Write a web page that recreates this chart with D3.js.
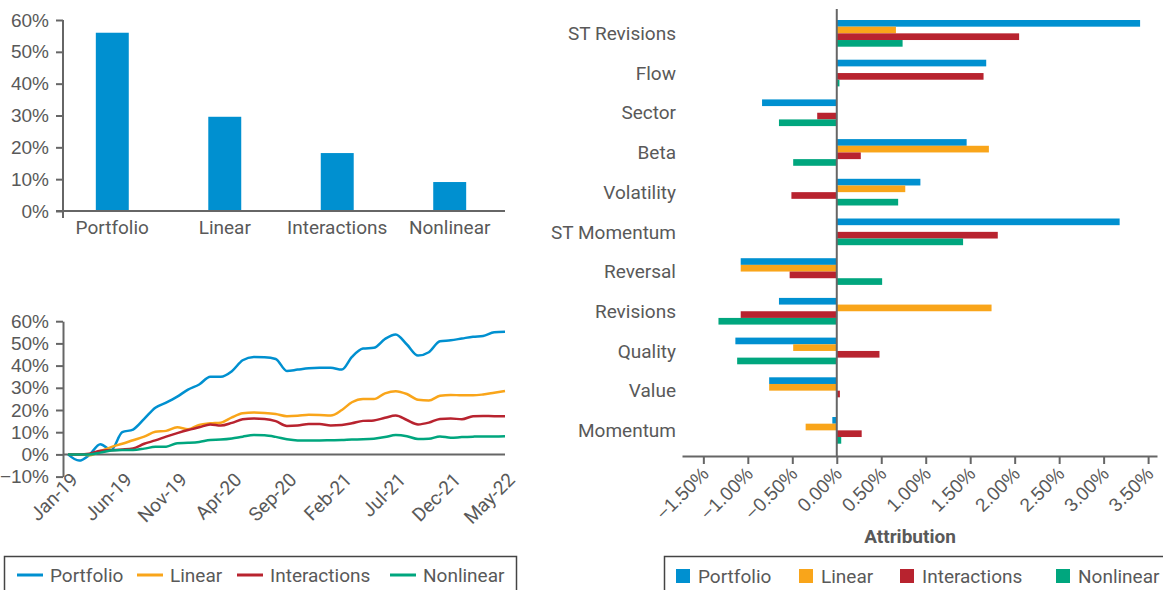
<!DOCTYPE html>
<html>
<head>
<meta charset="utf-8">
<script src="https://cdn.jsdelivr.net/npm/d3@7"></script>
<style>
  body { margin: 0; background: #fff; }
  svg { display: block; font-family: Roboto, "Liberation Sans", sans-serif; }
  text { fill: #595959; }
</style>
</head>
<body>
<div id="container"></div>
<script>
/* DATA */
const series = ["Portfolio", "Linear", "Interactions", "Nonlinear"];
const colors = ["#0090d0", "#f9a51a", "#b8232f", "#00a67e"];

// top left: total performance (%)
const totalPerf = [56.0, 29.6, 18.2, 9.1];

// bottom left: cumulative performance, monthly Jan-19 .. May-22 (%)
const cumPortfolio = [0, -2.8, -0.3, 4.6, 2, 10, 11.2, 16, 21, 23.3, 26, 29.2, 31.5, 35, 35, 37.5,
  42.4, 43.9, 43.8, 43, 37.6, 38.2, 38.8, 39, 39, 38.2, 43.9, 47.7, 48, 52, 54, 49.5, 44.5, 46,
  51, 51.4, 52.2, 53, 53.3, 55, 55.2];
const cumLinear = [0, 0, -0.4, 1.5, 3.3, 4.8, 6.4, 8, 10.2, 10.6, 12.2, 11.3, 13.3, 14, 14.3, 16.7,
  18.5, 18.9, 18.7, 18.2, 17.2, 17.4, 17.9, 17.8, 17.5, 20, 23.5, 25, 24.9, 27.5, 28.5, 27.2, 24.6,
  24.3, 26.4, 26.8, 26.6, 26.6, 27, 27.8, 28.6];
const cumInteractions = [0, 0, 0.3, 1.6, 1.9, 2.2, 2.7, 4.8, 6.3, 8, 9.6, 11, 12.2, 13.5, 13, 14.2,
  15.8, 16.2, 16, 15, 12.8, 13, 13.7, 13.7, 13, 13.2, 14, 15.1, 15.3, 16.5, 17.5, 15.5, 13.5, 14.3,
  16, 16.2, 15.8, 17.2, 17.3, 17.2, 17.2];
const cumNonlinear = [0, 0, 0, 0.8, 1.8, 2, 2, 2.6, 3.4, 3.5, 5, 5.2, 5.6, 6.5, 6.7, 7.2, 8, 8.7,
  8.6, 7.9, 6.8, 6.3, 6.3, 6.3, 6.4, 6.5, 6.7, 6.8, 7.1, 7.8, 8.7, 8.2, 6.9, 7, 8.1, 7.5, 7.8, 8,
  8.1, 8.1, 8.2];

// right: attribution by factor (%)
const factors = ["ST Revisions", "Flow", "Sector", "Beta", "Volatility", "ST Momentum",
  "Reversal", "Revisions", "Quality", "Value", "Momentum"];
const attrPortfolio = [3.41, 1.68, -0.84, 1.46, 0.94, 3.18, -1.08, -0.65, -1.14, -0.76, -0.05];
const attrLinear = [0.665, 0, 0, 1.71, 0.77, 0, -1.08, 1.74, -0.49, -0.76, -0.35];
const attrInteractions = [2.05, 1.65, -0.22, 0.27, -0.51, 1.81, -0.53, -1.08, 0.48, 0.035, 0.28];
const attrNonlinear = [0.74, 0.03, -0.65, -0.49, 0.69, 1.42, 0.51, -1.33, -1.12, 0, 0.05];
const attrTicks = [-1.5, -1, -0.5, 0, 0.5, 1, 1.5, 2, 2.5, 3, 3.5];

/* CONSTANTS */
const width = 1163;
const height = 590;
const axisColor = "#666";
const fontSize = "19px";
const color = d3.scaleOrdinal().domain(series).range(colors);

const svg = d3.select("#container")
  .append("svg")
  .attr("width", width)
  .attr("height", height);

// small helper to style axes the same everywhere
function styleAxis(g) {
  g.selectAll("path.domain").attr("stroke", axisColor).attr("stroke-width", 2);
  g.selectAll(".tick line").attr("stroke", axisColor).attr("stroke-width", 2);
  g.selectAll(".tick text").style("font-size", fontSize).attr("fill", "#595959");
}

/* TOP LEFT: TOTAL PERFORMANCE BARS */
const xTop = d3.scaleBand()
  .domain(series)
  .range([56, 506])
  .paddingInner(0.707)
  .paddingOuter(0.354);

const yTop = d3.scaleLinear()
  .domain([0, 60])
  .range([211, 20]);

svg.append("g")
  .attr("transform", "translate(63,0)")
  .call(d3.axisLeft(yTop).ticks(6).tickFormat(d => d + "%").tickSize(7).tickSizeOuter(0).tickPadding(7))
  .call(styleAxis)
  .call(g => g.select("path.domain").remove());

// y axis line runs a bit below the baseline
svg.append("line")
  .attr("x1", 63).attr("x2", 63)
  .attr("y1", yTop(60)).attr("y2", yTop(0) + 7)
  .attr("stroke", axisColor).attr("stroke-width", 2);

svg.selectAll(".bar-total")
  .data(series)
  .enter()
  .append("rect")
  .attr("class", "bar-total")
  .attr("x", d => xTop(d))
  .attr("y", (d, i) => yTop(totalPerf[i]))
  .attr("width", xTop.bandwidth())
  .attr("height", (d, i) => yTop(0) - yTop(totalPerf[i]))
  .attr("fill", colors[0]);

svg.append("line")
  .attr("x1", 56).attr("x2", 505)
  .attr("y1", yTop(0)).attr("y2", yTop(0))
  .attr("stroke", axisColor).attr("stroke-width", 2);

svg.selectAll(".cat-total")
  .data(series)
  .enter()
  .append("text")
  .attr("class", "cat-total")
  .attr("x", d => xTop(d) + xTop.bandwidth() / 2)
  .attr("y", 234)
  .attr("text-anchor", "middle")
  .style("font-size", fontSize)
  .text(d => d);

/* BOTTOM LEFT: CUMULATIVE PERFORMANCE LINES */
const months = d3.utcMonth.range(new Date(Date.UTC(2019, 0, 1)), new Date(Date.UTC(2022, 5, 1)));
const cumSeries = [cumPortfolio, cumLinear, cumInteractions, cumNonlinear];

const xLine = d3.scaleUtc()
  .domain([months[0], months[months.length - 1]])
  .range([68, 505]);

const yLine = d3.scaleLinear()
  .domain([-10, 60])
  .range([476.6, 321.2]);

svg.append("g")
  .attr("transform", "translate(63,0)")
  .call(d3.axisLeft(yLine).ticks(7).tickFormat(d => d3.format("d")(d) + "%").tickSize(7).tickSizeOuter(0).tickPadding(7))
  .call(styleAxis);

svg.append("line")
  .attr("x1", 63).attr("x2", 505)
  .attr("y1", yLine(0)).attr("y2", yLine(0))
  .attr("stroke", axisColor).attr("stroke-width", 2);

const lineGen = d3.line()
  .x((d, i) => xLine(months[i]))
  .y(d => yLine(d))
  .curve(d3.curveMonotoneX);

svg.selectAll(".cum-line")
  .data(cumSeries)
  .enter()
  .append("path")
  .attr("class", "cum-line")
  .attr("d", d => lineGen(d))
  .attr("fill", "none")
  .attr("stroke", (d, i) => colors[i])
  .attr("stroke-width", 2.5);

const monthTicks = months.filter((d, i) => i % 5 === 0);
svg.selectAll(".month-label")
  .data(monthTicks)
  .enter()
  .append("text")
  .attr("class", "month-label")
  .attr("transform", d => `translate(${xLine(d) + 11},${481}) rotate(-45)`)
  .attr("text-anchor", "end")
  .style("font-size", fontSize)
  .text(d3.utcFormat("%b-%y"));

/* LEFT LEGEND */
svg.append("rect")
  .attr("x", 4.5).attr("y", 556.5)
  .attr("width", 512).attr("height", 50)
  .attr("fill", "none").attr("stroke", "#444").attr("stroke-width", 1.5);

const lineLegendX = [17, 137, 237, 390];
const lineLegend = svg.selectAll(".line-legend")
  .data(series)
  .enter()
  .append("g")
  .attr("class", "line-legend")
  .attr("transform", (d, i) => `translate(${lineLegendX[i]},575)`);

lineLegend.append("line")
  .attr("x1", 0).attr("x2", 26)
  .attr("stroke", d => color(d)).attr("stroke-width", 3);

lineLegend.append("text")
  .attr("x", 33)
  .attr("dy", "0.35em")
  .style("font-size", fontSize)
  .text(d => d);

/* RIGHT: ATTRIBUTION BARS */
const attrSeries = [attrPortfolio, attrLinear, attrInteractions, attrNonlinear];
const attrTable = [];
factors.forEach((f, fi) => {
  series.forEach((s, si) => {
    attrTable.push({ factor: f, series: s, value: attrSeries[si][fi] });
  });
});

const xAttr = d3.scaleLinear()
  .domain([-1.74, 3.6])
  .range([682, 1157]);

const yAttr = d3.scaleBand()
  .domain(factors)
  .range([13.5, 450.2]);

const ySub = d3.scaleBand()
  .domain(series)
  .range([0, yAttr.bandwidth()])
  .paddingOuter(0.975);

svg.selectAll(".bar-attr")
  .data(attrTable.filter(d => d.value !== 0))
  .enter()
  .append("rect")
  .attr("class", "bar-attr")
  .attr("x", d => Math.min(xAttr(0), xAttr(d.value)))
  .attr("y", d => yAttr(d.factor) + ySub(d.series))
  .attr("width", d => Math.abs(xAttr(d.value) - xAttr(0)))
  .attr("height", ySub.bandwidth())
  .attr("fill", d => color(d.series));

svg.append("line")
  .attr("x1", xAttr(0)).attr("x2", xAttr(0))
  .attr("y1", 9).attr("y2", 456)
  .attr("stroke", axisColor).attr("stroke-width", 2);

svg.selectAll(".factor-label")
  .data(factors)
  .enter()
  .append("text")
  .attr("class", "factor-label")
  .attr("x", 676)
  .attr("y", d => yAttr(d) + yAttr.bandwidth() / 2)
  .attr("dy", "0.35em")
  .attr("text-anchor", "end")
  .style("font-size", fontSize)
  .text(d => d);

const attrAxis = svg.append("g")
  .attr("transform", "translate(0,456)")
  .call(d3.axisBottom(xAttr).tickValues(attrTicks).tickSize(8).tickSizeOuter(0))
  .call(styleAxis);

attrAxis.selectAll(".tick text")
  .attr("x", null).attr("y", null).attr("dy", null)
  .attr("text-anchor", "end")
  .attr("transform", "translate(6,19) rotate(-45)")
  .text(d => d3.format(".2f")(d) + "%");

svg.append("text")
  .attr("x", 910)
  .attr("y", 543)
  .attr("text-anchor", "middle")
  .style("font-size", fontSize)
  .style("font-weight", "bold")
  .text("Attribution");

/* RIGHT LEGEND */
svg.append("rect")
  .attr("x", 664.5).attr("y", 556.5)
  .attr("width", 520).attr("height", 50)
  .attr("fill", "none").attr("stroke", "#444").attr("stroke-width", 1.5);

const barLegendX = [676, 799, 900, 1056];
const barLegend = svg.selectAll(".bar-legend")
  .data(series)
  .enter()
  .append("g")
  .attr("class", "bar-legend")
  .attr("transform", (d, i) => `translate(${barLegendX[i]},576)`);

barLegend.append("rect")
  .attr("x", 0).attr("y", -7)
  .attr("width", 14).attr("height", 14)
  .attr("fill", d => color(d));

barLegend.append("text")
  .attr("x", 22)
  .attr("dy", "0.35em")
  .style("font-size", fontSize)
  .text(d => d);
</script>
</body>
</html>
